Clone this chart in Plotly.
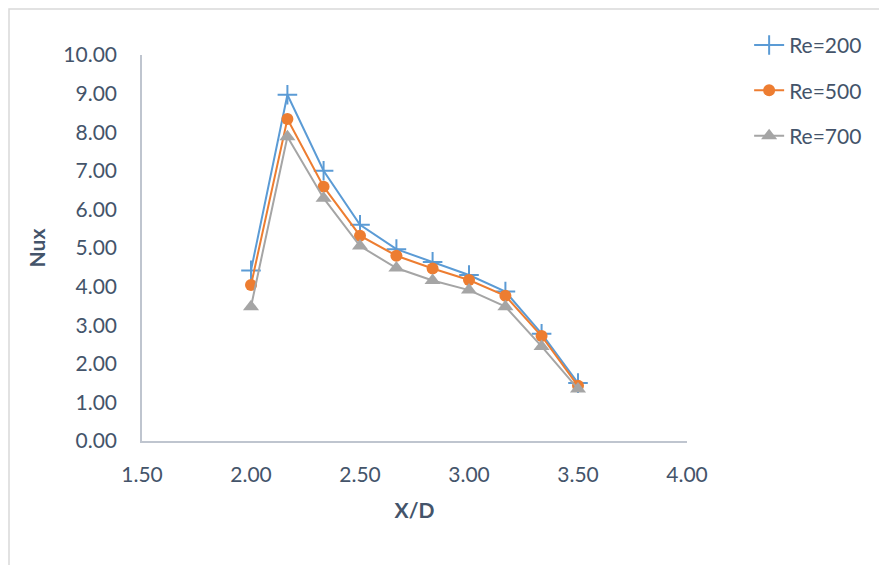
import plotly.graph_objects as go

x_over_d = [2.00, 2.167, 2.333, 2.50, 2.667, 2.833, 3.00, 3.167, 3.333, 3.50]
re200 = [4.42, 8.97, 7.00, 5.60, 4.97, 4.64, 4.30, 3.87, 2.78, 1.50]
re500 = [4.04, 8.34, 6.59, 5.32, 4.80, 4.47, 4.17, 3.76, 2.72, 1.43]
re700 = [3.48, 7.88, 6.29, 5.05, 4.48, 4.16, 3.91, 3.48, 2.45, 1.35]

series_names = ["Re=200", "Re=500", "Re=700"]
x_ticks = [1.5, 2.0, 2.5, 3.0, 3.5, 4.0]
y_ticks = [0, 1, 2, 3, 4, 5, 6, 7, 8, 9, 10]

TXT = "#44546A"
FONT = "Lato"
FS = 21

fig = go.Figure()
fig.add_trace(go.Scatter(
    x=x_over_d, y=re200, name=series_names[0], legendgroup="a",
    mode="lines+markers",
    line=dict(color="#5B9BD5", width=2),
    marker=dict(symbol="cross-thin", size=14, line=dict(color="#5B9BD5", width=2), color="#5B9BD5"),
))
fig.add_trace(go.Scatter(
    x=x_over_d, y=re500, name=series_names[1], legendgroup="b",
    mode="lines+markers",
    line=dict(color="#ED7D31", width=2),
    marker=dict(symbol="circle", size=12, color="#ED7D31"),
))
fig.add_trace(go.Scatter(
    x=x_over_d, y=re700, name=series_names[2], legendgroup="c",
    mode="lines+markers",
    line=dict(color="#A5A5A5", width=2),
    marker=dict(symbol="triangle-up", size=14, color="#A5A5A5"),
))

fig.update_layout(
    width=879, height=557,
    margin=dict(l=134, r=200, t=47, b=124),
    paper_bgcolor="white", plot_bgcolor="white",
    font=dict(family=FONT, size=FS, color=TXT),
    showlegend=True,
    legend=dict(
        x=1.114, y=1.078, xanchor="left", yanchor="top",
        font=dict(family=FONT, size=FS, color=TXT),
        traceorder="grouped", tracegroupgap=15,
        bgcolor="rgba(0,0,0,0)",
    ),
    xaxis=dict(
        range=[1.5, 4.0], tickvals=x_ticks,
        ticktext=[f"{v:.2f}" for v in x_ticks],
        showgrid=False, zeroline=False,
        showline=True, linecolor="#BFC5CF", linewidth=1.5,
        ticks="", ticklabelstandoff=14,
        title=dict(text="<b>X/D</b>", font=dict(family=FONT, size=FS, color=TXT), standoff=18),
    ),
    yaxis=dict(
        range=[0, 10], tickvals=y_ticks,
        ticktext=[f"{v:.2f}" for v in y_ticks],
        showgrid=False, zeroline=False,
        showline=True, linecolor="#BFC5CF", linewidth=1.5,
        ticks="", ticklabelstandoff=19,
        title=dict(text="<b>Nux</b>", font=dict(family=FONT, size=FS, color=TXT), standoff=12),
    ),
    shapes=[dict(
        type="rect", xref="paper", yref="paper",
        x0=(1 - 134) / 545, x1=(950 - 134) / 545,
        y0=(433 - 600) / 386, y1=(433 - 1) / 386,
        line=dict(color="#D9D9D9", width=1.5), fillcolor="rgba(0,0,0,0)", layer="below",
    )],
)

fig.write_html("out.html")
